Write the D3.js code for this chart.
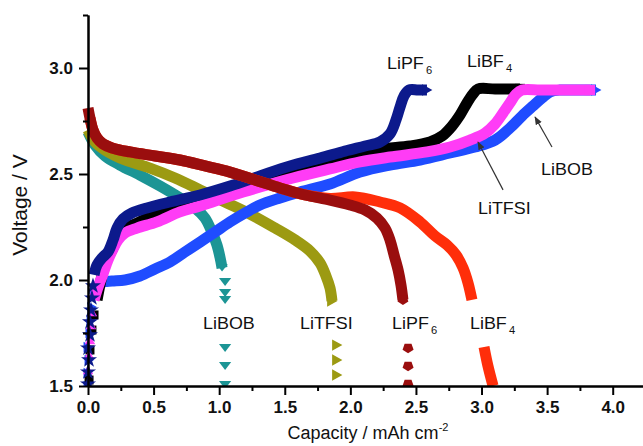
<!DOCTYPE html>
<html>
<head>
<meta charset="utf-8">
<script src="https://cdn.jsdelivr.net/npm/d3@7"></script>
<style>
  body { margin: 0; background: #fff; }
  svg { display: block; font-family: "Liberation Sans", Arial, Helvetica, sans-serif; }
</style>
</head>
<body>
<svg id="chart" width="643" height="446"></svg>
<script>
// ---- Data: [capacity (mAh cm^-2), voltage (V)] ----
// Discharge curves
const libobDischarge = [[0,2.698],[0.053,2.637],[0.13,2.585],[0.244,2.542],[0.396,2.495],[0.549,2.443],[0.701,2.387],[0.816,2.340],[0.892,2.292],[0.945,2.226],[0.983,2.165],[1.006,2.108],[1.022,2.057]];
const libobDischargeTail = [[1.045,1.991],[1.045,1.939],[1.045,1.906],[1.045,1.679],[1.045,1.594],[1.045,1.505]];

const litfsiDischarge = [[0,2.708],[0.053,2.651],[0.13,2.613],[0.282,2.566],[0.473,2.528],[0.663,2.481],[0.854,2.425],[1.044,2.368],[1.235,2.311],[1.426,2.245],[1.578,2.189],[1.692,2.137],[1.769,2.080],[1.814,2.019],[1.845,1.962],[1.86,1.901]];
const litfsiDischargeTail = [[1.898,1.693],[1.898,1.623],[1.898,1.552]];

const lipf6Discharge = [[0,2.811],[0.015,2.764],[0.038,2.708],[0.069,2.670],[0.114,2.642],[0.183,2.623],[0.32,2.604],[0.511,2.585],[0.701,2.566],[0.892,2.538],[1.083,2.509],[1.273,2.472],[1.464,2.434],[1.654,2.401],[1.845,2.377],[1.997,2.354],[2.112,2.330],[2.203,2.292],[2.264,2.245],[2.302,2.189],[2.333,2.118],[2.364,2.047],[2.386,1.976],[2.401,1.906]];
const lipf6DischargeTail = [[2.44,1.679],[2.44,1.594],[2.44,1.509]];

const libf4Discharge = [[0.015,2.764],[0.038,2.708],[0.069,2.670],[0.114,2.642],[0.183,2.623],[0.32,2.604],[0.511,2.585],[0.701,2.566],[0.892,2.538],[1.083,2.509],[1.273,2.472],[1.464,2.434],[1.654,2.401],[1.845,2.385],[2.036,2.392],[2.226,2.368],[2.379,2.340],[2.531,2.274],[2.645,2.208],[2.737,2.165],[2.806,2.118],[2.859,2.057],[2.897,1.986],[2.927,1.906]];
const libf4DischargeTail = [[3.019,1.684],[3.049,1.594],[3.088,1.5]];

// Charge curves
const lipf6ChargeStart = [[0,1.509],[0,1.566],[0.008,1.623],[0,1.679],[0.015,1.741],[0.015,1.802],[0.023,1.858],[0.03,1.915],[0.038,1.972]];
const lipf6Charge = [[0.046,2.024],[0.069,2.071],[0.107,2.104],[0.152,2.132],[0.191,2.189],[0.221,2.245],[0.267,2.288],[0.335,2.316],[0.45,2.340],[0.625,2.368],[0.854,2.401],[1.083,2.443],[1.311,2.491],[1.54,2.538],[1.769,2.575],[1.959,2.608],[2.112,2.632],[2.226,2.651],[2.302,2.689],[2.348,2.755],[2.379,2.816],[2.409,2.868],[2.447,2.896],[2.516,2.896],[2.584,2.896]];

const libf4ChargeStart = [[0.008,1.528],[0.015,1.670],[0.03,1.764],[0.046,1.835]];
const libf4Charge = [[0.069,1.906],[0.091,1.976],[0.122,2.057],[0.152,2.104],[0.191,2.151],[0.229,2.208],[0.282,2.245],[0.358,2.264],[0.45,2.292],[0.625,2.344],[0.854,2.392],[1.083,2.439],[1.311,2.481],[1.54,2.524],[1.769,2.561],[1.997,2.590],[2.226,2.618],[2.455,2.632],[2.607,2.651],[2.699,2.679],[2.775,2.726],[2.836,2.778],[2.889,2.835],[2.935,2.877],[2.973,2.901],[3.103,2.901],[3.293,2.901]];

const litfsiChargeStart = [[0,1.505],[0,1.575],[0.008,1.646],[0.015,1.717],[0.023,1.788],[0.03,1.849]];
const litfsiCharge = [[0.046,1.906],[0.069,1.953],[0.091,1.991],[0.114,2.028],[0.152,2.094],[0.191,2.146],[0.229,2.189],[0.282,2.222],[0.374,2.245],[0.526,2.274],[0.701,2.321],[0.854,2.349],[1.182,2.415],[1.563,2.481],[1.845,2.524],[2.074,2.557],[2.302,2.580],[2.584,2.604],[2.76,2.627],[2.912,2.660],[3.027,2.693],[3.103,2.736],[3.164,2.788],[3.217,2.835],[3.263,2.877],[3.309,2.896],[3.446,2.896],[3.598,2.896],[3.751,2.896],[3.827,2.896]];

const libobChargeStart = [[0,1.5],[0,1.561],[0.008,1.623],[0,1.684],[0.015,1.75],[0.023,1.811],[0.03,1.873]];
const libobCharge = [[0.046,1.929],[0.076,1.972],[0.122,1.991],[0.183,1.995],[0.282,2.0],[0.396,2.019],[0.511,2.052],[0.625,2.085],[0.739,2.132],[0.854,2.179],[0.968,2.226],[1.083,2.274],[1.197,2.316],[1.311,2.354],[1.464,2.387],[1.616,2.415],[1.845,2.453],[2.074,2.509],[2.302,2.542],[2.531,2.566],[2.76,2.599],[2.95,2.627],[3.103,2.660],[3.217,2.717],[3.309,2.774],[3.393,2.821],[3.461,2.858],[3.522,2.887],[3.598,2.896],[3.713,2.896],[3.827,2.896],[3.873,2.896]];

// Axis ticks
const xMajorTicks = [0, 0.5, 1.0, 1.5, 2.0, 2.5, 3.0, 3.5, 4.0];
const xMinorTicks = [0.25, 0.75, 1.25, 1.75, 2.25, 2.75, 3.25, 3.75];
const yMajorTicks = [1.5, 2.0, 2.5, 3.0];
const yMinorTicks = [1.75, 2.25, 2.75, 3.25];

// ---- Setup ----
const svg = d3.select("#chart");
const x = d3.scaleLinear().domain([0, 4.25]).range([88, 645.5]);
const y = d3.scaleLinear().domain([1.5, 3.25]).range([386, 15]);

// Marker shapes (unit polygons scaled by symbol size)
function polygon(pts) {
  return {
    draw(ctx, size) {
      const r = Math.sqrt(size) / 2;
      pts.forEach(([px, py], i) => i ? ctx.lineTo(px * r, py * r) : ctx.moveTo(px * r, py * r));
      ctx.closePath();
    }
  };
}
const triDown = polygon([[-1, -0.65], [1, -0.65], [0, 0.65]]);
const triRight = polygon([[-0.85, -1], [0.95, 0], [-0.85, 1]]);
const triUp = polygon([[-1, 0.8], [1, 0.8], [0, -0.9]]);
const square = polygon([[-0.9, -0.9], [0.9, -0.9], [0.9, 0.9], [-0.9, 0.9]]);
const pentagon = polygon(d3.range(5).map(i => {
  const a = Math.PI / 2 + i * 2 * Math.PI / 5;
  return [Math.cos(a), Math.sin(a) * 0.9];
}));

const series = [
  { bands: [libobDischarge], dots: libobDischargeTail, color: "#1c9595", shape: triDown, end: triDown, dotSize: 150 },
  { bands: [litfsiDischarge], dots: litfsiDischargeTail, color: "#9c9a12", shape: triRight, end: triRight, dotSize: 130 },
  { bands: [libobCharge], dots: libobChargeStart, color: "#1f4cff", shape: triRight, end: triRight, dotSize: 110 },
  { bands: [libf4Charge], dots: libf4ChargeStart, color: "#000000", shape: square, end: square, dotSize: 100 },
  { bands: [litfsiCharge], dots: litfsiChargeStart, color: "#ff3cf6", shape: triUp, end: square, dotSize: 110 },
  { bands: [lipf6Charge], dots: lipf6ChargeStart, color: "#0c1a8c", shape: d3.symbolStar, end: triRight, dotSize: 80 },
  { bands: [libf4Discharge, libf4DischargeTail], dots: [], color: "#ff2e0a", shape: square, end: null, dotSize: 100 },
  { bands: [lipf6Discharge], dots: lipf6DischargeTail, color: "#9a0e0e", shape: pentagon, end: pentagon, dotSize: 135 }
];

// Plot area clip (keeps marks from spilling below the x axis)
const defs = svg.append("defs");
defs.append("clipPath").attr("id", "plotClip")
  .append("rect").attr("x", 76).attr("y", 0).attr("width", 580).attr("height", y(1.5));

const plot = svg.append("g").attr("clip-path", "url(#plotClip)");
const line = d3.line().x(d => x(d[0])).y(d => y(d[1])).curve(d3.curveCatmullRom.alpha(0.5));

series.forEach(s => {
  const g = plot.append("g");
  s.bands.forEach(b => {
    g.append("path").datum(b)
      .attr("d", line)
      .attr("fill", "none")
      .attr("stroke", s.color)
      .attr("stroke-width", 11)
      .attr("stroke-linejoin", "round")
      .attr("stroke-linecap", "butt");
  });
  if (s.end) {
    const last = s.bands[0][s.bands[0].length - 1];
    g.append("path")
      .attr("transform", `translate(${x(last[0])},${y(last[1])})`)
      .attr("d", d3.symbol().type(s.end).size(130))
      .attr("fill", s.color);
  }
  g.selectAll(null).data(s.dots).join("path")
    .attr("transform", d => `translate(${x(d[0])},${y(d[1])})`)
    .attr("d", d3.symbol().type(s.shape).size(s.dotSize))
    .attr("fill", s.color);
});

// ---- Axes ----
const axisG = svg.append("g");
function styleAxis(g) {
  g.select(".domain").attr("stroke", "#000").attr("stroke-width", 2);
  g.selectAll(".tick line").attr("stroke", "#000").attr("stroke-width", 2);
  g.selectAll(".tick text").attr("font-size", 17).attr("font-weight", "bold")
    .attr("font-family", "'Liberation Sans', Arial, sans-serif").attr("fill", "#111");
}
// minor ticks
axisG.append("g").attr("transform", `translate(0,${y(1.5)})`)
  .call(d3.axisBottom(x).tickValues(xMinorTicks).tickSize(5).tickSizeOuter(0).tickFormat(""))
  .call(styleAxis);
axisG.append("g").attr("transform", `translate(${x(0)},0)`)
  .call(d3.axisLeft(y).tickValues(yMinorTicks).tickSize(5).tickSizeOuter(0).tickFormat(""))
  .call(styleAxis);
// major ticks
axisG.append("g").attr("transform", `translate(0,${y(1.5)})`)
  .call(d3.axisBottom(x).tickValues(xMajorTicks).tickSize(9).tickSizeOuter(0).tickPadding(6).tickFormat(d3.format(".1f")))
  .call(styleAxis);
axisG.append("g").attr("transform", `translate(${x(0)},0)`)
  .call(d3.axisLeft(y).tickValues(yMajorTicks).tickSize(9).tickSizeOuter(0).tickPadding(6).tickFormat(d3.format(".1f")))
  .call(styleAxis);

// Axis titles
const xTitle = svg.append("text")
  .attr("x", 368).attr("y", 439)
  .attr("text-anchor", "middle").attr("font-size", 18).attr("fill", "#111");
xTitle.append("tspan").text("Capacity / mAh cm");
xTitle.append("tspan").attr("font-size", 11).attr("dy", -8).text("-2");

svg.append("text")
  .attr("transform", "translate(27,205) rotate(-90)")
  .attr("text-anchor", "middle").attr("font-size", 21).attr("fill", "#111")
  .text("Voltage / V");

// ---- Series labels ----
function label(xv, yv, main, sub) {
  const t = svg.append("text")
    .attr("transform", `translate(${x(xv)},${y(yv)}) scale(1.12,1)`)
    .attr("font-size", 16).attr("fill", "#111");
  t.append("tspan").text(main);
  if (sub) t.append("tspan").attr("font-size", 10).attr("dx", 2).attr("dy", 5).text(sub);
}
label(2.279, 2.995, "LiPF", "6");
label(2.889, 3.005, "LiBF", "4");
label(3.454, 2.495, "LiBOB");
label(2.973, 2.311, "LiTFSI");
label(0.877, 1.769, "LiBOB");
label(1.616, 1.769, "LiTFSI");
label(2.318, 1.769, "LiPF", "6");
label(2.912, 1.769, "LiBF", "4");

// Pointer arrows for the charge curves
defs.append("marker").attr("id", "arrowHead")
  .attr("viewBox", "0 0 10 10").attr("refX", 9).attr("refY", 5)
  .attr("markerWidth", 7).attr("markerHeight", 7).attr("orient", "auto")
  .append("path").attr("d", "M0,1 L10,5 L0,9 Z").attr("fill", "#333");
[[[3.164, 2.425], [2.973, 2.651]], [[3.537, 2.627], [3.408, 2.769]]].forEach(([from, to]) => {
  svg.append("line")
    .attr("x1", x(from[0])).attr("y1", y(from[1]))
    .attr("x2", x(to[0])).attr("y2", y(to[1]))
    .attr("stroke", "#333").attr("stroke-width", 1.2)
    .attr("marker-end", "url(#arrowHead)");
});
</script>
</body>
</html>
